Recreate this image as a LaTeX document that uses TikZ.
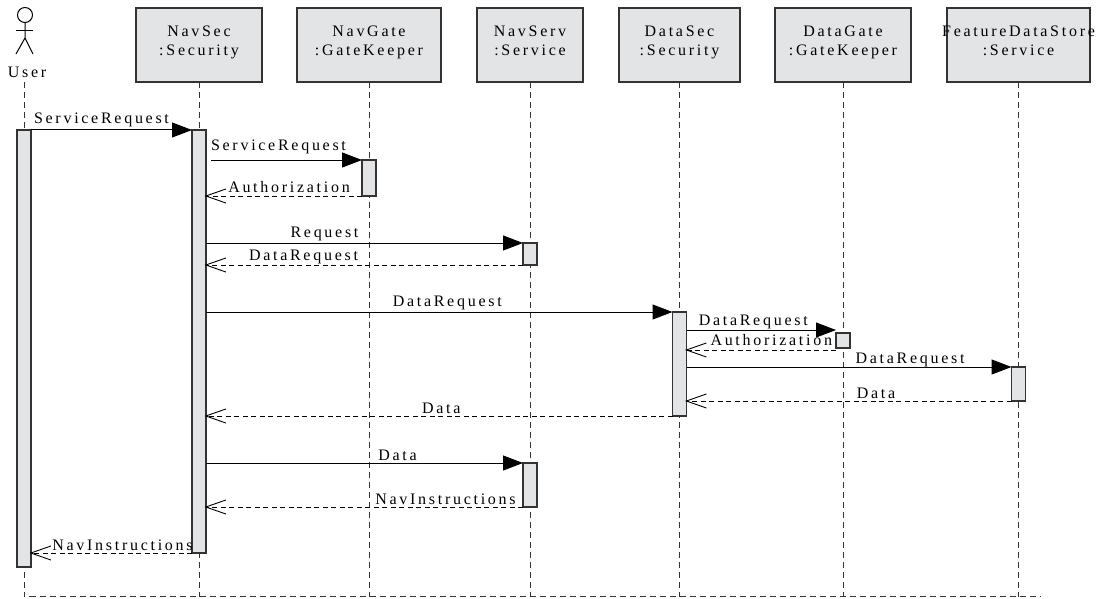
\documentclass[tikz,border=0pt]{standalone}
\usepackage{fontspec}
\setmainfont[LetterSpace=17]{Liberation Serif}
\usetikzlibrary{positioning,arrows.meta}
\definecolor{boxfill}{HTML}{E3E4E6}
\definecolor{boxline}{HTML}{333333}
\tikzset{
  head/.style={rectangle, draw=boxline, fill=boxfill, line width=1.1pt, minimum height=74pt, outer sep=0pt,
               align=center, text depth=8pt, font=\fontsize{16}{19}\selectfont},
  bar/.style={rectangle, draw=boxline, fill=boxfill, line width=1.1pt, minimum width=14pt, inner sep=0pt, outer sep=0pt},
  life/.style={dashed, dash pattern=on 6pt off 4pt, line width=0.9pt, boxline},
  fwd/.style={-{Triangle[length=20pt,width=15pt]}, line width=1pt},
  ret/.style={-{Straight Barb[length=20pt,width=14pt]}, dashed, dash pattern=on 5pt off 3.5pt, line width=0.9pt, shorten >=-1.5pt},
  msg/.style={inner sep=2pt, font=\fontsize{16}{19}\selectfont},
}
\begin{document}
\begin{tikzpicture}[x=1pt, y=-1pt]
  \useasboundingbox (0,0) rectangle (1097,599);
  \coordinate (bottom) at (0,596.5);

  % actor
  \node[circle, draw, line width=1pt, minimum size=15pt, inner sep=0pt] (actor) at (25,15) {};
  \coordinate (hip) at (25,38);
  \draw[line width=1pt] (actor.south) -- (hip) -- ++(-9,16);
  \draw[line width=1pt] (hip) -- ++(8,16);
  \draw[line width=1pt] (16,31) -- (33,31);
  \node[msg] (user) at (27,72) {User};

  % heads
  \node[head, minimum width=126pt] (navsec) at (199,45) {NavSec\\:Security};
  \node[head, minimum width=144pt, right=35pt of navsec] (navgate) {NavGate\\:GateKeeper};
  \node[head, minimum width=106pt, right=36pt of navgate] (navserv) {NavServ\\:Service};
  \node[head, minimum width=121pt, right=36pt of navserv] (datasec) {DataSec\\:Security};
  \node[head, minimum width=136pt, right=35pt of datasec] (datagate) {DataGate\\:GateKeeper};
  \node[head, minimum width=143pt, right=36pt of datagate] (store) {\makebox[0pt]{FeatureDataStore}\\:Service};

  % lifelines
  \foreach \name in {navsec,navgate,navserv,datasec,datagate,store}
    \draw[life] (\name.south) -- (\name.south |- bottom);
  \coordinate (userlife) at (24,82);
  \draw[life] (userlife) -- (userlife |- bottom) -- (1040,596.5);

  % activations
  \node[bar, minimum height=437pt, below=48pt of userlife] (barUser) {};
  \node[bar, minimum height=423pt, below=48pt of navsec] (barNavSec) {};
  \node[bar, minimum height=36pt, below=78pt of navgate] (barNavGate) {};
  \node[bar, minimum height=22pt, below=161pt of navserv] (barNavServ) {};
  \node[bar, minimum height=104pt, below=230pt of datasec] (barDataSec) {};
  \node[bar, minimum height=15pt, below=251pt of datagate] (barDataGate) {};
  \node[bar, minimum height=34pt, below=285pt of store] (barStore) {};
  \node[bar, minimum height=44pt, below=381pt of navserv] (barNavServB) {};

  % messages
  \draw[fwd] (barUser.north east) -- (barNavSec.north west) node[msg, midway, above, xshift=-10pt, yshift=1pt] {ServiceRequest};
  \draw[fwd] ([xshift=5pt]barNavSec.east |- barNavGate.north) -- (barNavGate.north west) node[msg, midway, above, xshift=-8pt, yshift=4pt] {ServiceRequest};
  \draw[ret] (barNavGate.south west) -- (barNavSec.east |- barNavGate.south) node[msg, midway, above, xshift=5pt, yshift=1pt] {Authorization};
  \draw[fwd] (barNavSec.east |- barNavServ.north) -- (barNavServ.north west) node[msg, midway, above, xshift=-40pt] {Request};
  \draw[ret] (barNavServ.south west) -- (barNavSec.east |- barNavServ.south) node[msg, midway, above, xshift=-61pt, yshift=-1pt] {DataRequest};
  \draw[fwd] (barNavSec.east |- barDataSec.north) -- (barDataSec.north west) node[msg, midway, above, xshift=8pt] {DataRequest};
  \draw[fwd] ([yshift=3pt]barDataSec.east |- barDataGate.north) -- ([yshift=3pt]barDataGate.north west) node[msg, midway, above, xshift=-8pt, yshift=-1pt] {DataRequest};
  \draw[ret] ([yshift=-2pt]barDataGate.south west) -- ([yshift=-2pt]barDataSec.east |- barDataGate.south) node[msg, midway, above, xshift=10pt, yshift=2pt] {Authorization};
  \draw[fwd] (barDataSec.east |- barStore.north) -- (barStore.north west) node[msg, midway, above, xshift=61pt, yshift=-2pt] {DataRequest};
  \draw[ret] (barStore.south west) -- (barDataSec.east |- barStore.south) node[msg, midway, above, xshift=27pt] {Data};
  \draw[ret] (barDataSec.south west) -- (barNavSec.east |- barDataSec.south) node[msg, midway, above, xshift=2pt] {Data};
  \draw[fwd] (barNavSec.east |- barNavServB.north) -- (barNavServB.north west) node[msg, midway, above, xshift=33pt] {Data};
  \draw[ret] (barNavServB.south west) -- (barNavSec.east |- barNavServB.south) node[msg, midway, above, xshift=81pt] {NavInstructions};
  \draw[ret] (barNavSec.south west) -- (barUser.east |- barNavSec.south) node[msg, midway, above, xshift=11pt] {NavInstructions};
\end{tikzpicture}
\end{document}
